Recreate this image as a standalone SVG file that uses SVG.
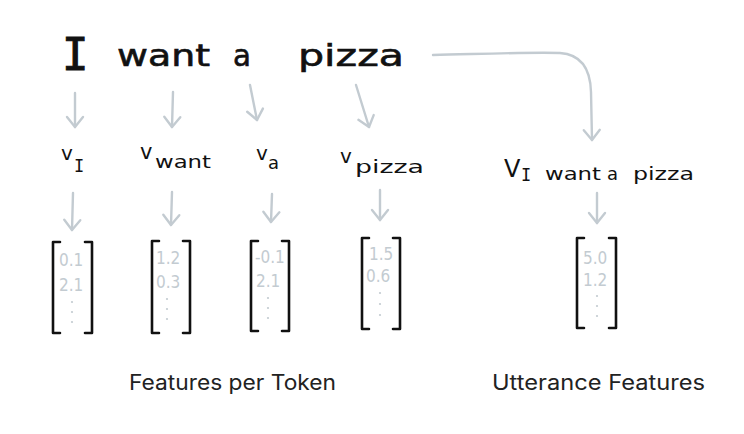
<svg xmlns="http://www.w3.org/2000/svg" width="744" height="434" viewBox="0 0 744 434">
<defs>
<style>
.hw{font-family:"DejaVu Sans","Liberation Sans",sans-serif;fill:#111}
.serifI{font-family:"DejaVu Sans Mono","Liberation Mono",monospace;fill:#111}
.num{font-family:"DejaVu Sans Condensed","Liberation Sans Narrow","Liberation Sans",sans-serif;fill:#c3cbd1;font-size:17px}
.br{fill:none;stroke:#111;stroke-width:2.6;stroke-linecap:round;stroke-linejoin:round}
.dot{fill:#c3cbd1}
.arr{fill:none;stroke:#c3cbd1;stroke-width:2.4;stroke-linecap:round;marker-end:url(#head)}
.cap{font-family:Inter,"Noto Sans",sans-serif;font-size:21px;fill:#222}
</style>
<marker id="head" markerUnits="userSpaceOnUse" markerWidth="24" markerHeight="24" refX="12" refY="12" orient="auto" viewBox="0 0 24 24">
<path d="M2,4 L12,12 L2,20" fill="none" stroke="#c3cbd1" stroke-width="2.4" stroke-linecap="round" stroke-linejoin="round"/>
</marker>
</defs>
<rect width="744" height="434" fill="#fff"/>

<g id="sentence" class="hw">
<text class="serifI" x="62" y="70" font-size="44" stroke="#111" stroke-width="1">I</text>
<text x="117" y="66" font-size="30" textLength="93" lengthAdjust="spacingAndGlyphs" stroke="#111" stroke-width="0.6">want</text>
<text x="233" y="66" font-size="30" textLength="18" lengthAdjust="spacingAndGlyphs" stroke="#111" stroke-width="0.6">a</text>
<text x="298" y="66" font-size="30" textLength="106" lengthAdjust="spacingAndGlyphs" stroke="#111" stroke-width="0.6">pizza</text>
</g>

<g id="v_I" class="hw">
<text x="61" y="160" font-size="20">v</text>
<text class="serifI" x="74" y="172" font-size="17">I</text>
</g>
<g id="v_want" class="hw">
<text x="140" y="159" font-size="21">v</text>
<text x="155" y="168" font-size="18" textLength="56" lengthAdjust="spacingAndGlyphs">want</text>
</g>
<g id="v_a" class="hw">
<text x="256" y="160" font-size="20">v</text>
<text x="268" y="169" font-size="18">a</text>
</g>
<g id="v_pizza" class="hw">
<text x="340" y="163" font-size="20">v</text>
<text x="355" y="173" font-size="18" textLength="69" lengthAdjust="spacingAndGlyphs">pizza</text>
</g>
<g id="v_utterance" class="hw">
<text x="504" y="177" font-size="24">V</text>
<text class="serifI" x="521" y="181" font-size="17">I</text>
<text x="545" y="180" font-size="18" textLength="56" lengthAdjust="spacingAndGlyphs">want</text>
<text x="607" y="180" font-size="18">a</text>
<text x="633" y="180" font-size="18" textLength="61" lengthAdjust="spacingAndGlyphs">pizza</text>
</g>

<g id="vec_I">
<path class="br" d="M60,242 L53,242 L53,333 L60,333"/>
<path class="br" d="M85,242 L92,242 L92,333 L85,333"/>
<text class="num" x="59" y="266">0.1</text>
<text class="num" x="59" y="291">2.1</text>
<circle class="dot" cx="72" cy="302" r="1.1"/><circle class="dot" cx="72" cy="312" r="1.1"/><circle class="dot" cx="72" cy="322" r="1.1"/>
</g>
<g id="vec_want">
<path class="br" d="M159,241 L152,241 L152,333 L159,333"/>
<path class="br" d="M183,241 L190,241 L190,333 L183,333"/>
<text class="num" x="156" y="264">1.2</text>
<text class="num" x="156" y="288">0.3</text>
<circle class="dot" cx="167" cy="299" r="1.1"/><circle class="dot" cx="167" cy="309" r="1.1"/><circle class="dot" cx="167" cy="319" r="1.1"/>
</g>
<g id="vec_a">
<path class="br" d="M258,241 L251,241 L251,331 L258,331"/>
<path class="br" d="M282,241 L289,241 L289,331 L282,331"/>
<text class="num" x="255" y="263">-0.1</text>
<text class="num" x="256" y="287">2.1</text>
<circle class="dot" cx="268" cy="298" r="1.1"/><circle class="dot" cx="268" cy="308" r="1.1"/><circle class="dot" cx="268" cy="318" r="1.1"/>
</g>
<g id="vec_pizza">
<path class="br" d="M369,238 L362,238 L362,329 L369,329"/>
<path class="br" d="M393,238 L400,238 L400,329 L393,329"/>
<text class="num" x="369" y="260">1.5</text>
<text class="num" x="366" y="282">0.6</text>
<circle class="dot" cx="380" cy="293" r="1.1"/><circle class="dot" cx="380" cy="304" r="1.1"/><circle class="dot" cx="380" cy="315" r="1.1"/>
</g>
<g id="vec_utterance">
<path class="br" d="M584,238 L577,238 L577,328 L584,328"/>
<path class="br" d="M609,238 L616,238 L616,328 L609,328"/>
<text class="num" x="583" y="264">5.0</text>
<text class="num" x="583" y="286">1.2</text>
<circle class="dot" cx="597" cy="296" r="1.1"/><circle class="dot" cx="597" cy="306" r="1.1"/><circle class="dot" cx="597" cy="316" r="1.1"/>
</g>

<g id="connectors">
<path class="arr" d="M75,93 L75,127"/>
<path class="arr" d="M173,92 L172,127"/>
<path class="arr" d="M250,85 L257,120"/>
<path class="arr" d="M356,85 L369,127"/>
<path class="arr" d="M73,193 L72,230"/>
<path class="arr" d="M172,192 L171,225"/>
<path class="arr" d="M272,194 L271,222"/>
<path class="arr" d="M380,190 L380,220"/>
<path class="arr" d="M433,55 C480,54 530,52 560,53 Q590,55 591,92 L592,140"/>
<path class="arr" d="M597,193 L597,223"/>
</g>

<g id="captions">
<text class="cap" x="129" y="390" textLength="207" lengthAdjust="spacingAndGlyphs">Features per Token</text>
<text class="cap" x="492" y="390" textLength="213" lengthAdjust="spacingAndGlyphs">Utterance Features</text>
</g>
</svg>
